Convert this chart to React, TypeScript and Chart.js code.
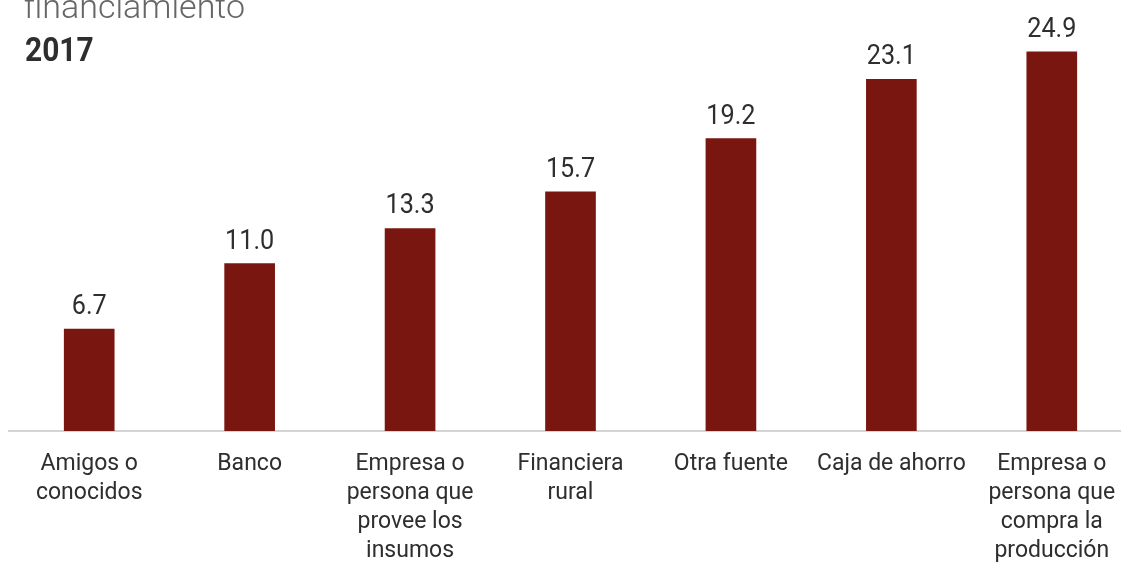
import React, { useEffect, useRef } from "react";
import { Chart, registerables } from "chart.js";

Chart.register(...registerables);

const categories: (string | string[])[] = [
  ["Amigos o", "conocidos"],
  "Banco",
  ["Empresa o", "persona que", "provee los", "insumos"],
  ["Financiera", "rural"],
  "Otra fuente",
  "Caja de ahorro",
  ["Empresa o", "persona que", "compra la", "producción"],
];
const values: number[] = [6.7, 11.0, 13.3, 15.7, 19.2, 23.1, 24.9];
const titleLine = "financiamiento";
const yearLabel = "2017";

const BAR_COLOR = "#7a1610";
const TEXT_COLOR = "#2e2e2e";

const valueLabels = {
  id: "valueLabels",
  afterDatasetsDraw(chart: any) {
    const ctx = chart.ctx;
    const meta = chart.getDatasetMeta(0);
    meta.data.forEach((bar: any, i: number) => {
      ctx.save();
      ctx.font = "400 28px Roboto";
      ctx.fillStyle = TEXT_COLOR;
      ctx.textAlign = "center";
      ctx.textBaseline = "alphabetic";
      ctx.translate(bar.x, bar.y - 15);
      ctx.scale(0.9, 1);
      ctx.fillText(values[i].toFixed(1), 0, 0);
      ctx.restore();
    });
  },
};

export default function App() {
  const ref = useRef<HTMLCanvasElement | null>(null);
  useEffect(() => {
    if (!ref.current) return;
    const chart = new Chart(ref.current, {
      type: "bar",
      data: {
        labels: categories,
        datasets: [
          {
            data: values,
            backgroundColor: BAR_COLOR,
            barThickness: 50,
          },
        ],
      },
      options: {
        animation: false,
        responsive: true,
        maintainAspectRatio: false,
        layout: { padding: { left: 9, right: 3, top: 0, bottom: -16 } },
        plugins: { legend: { display: false }, tooltip: { enabled: false } },
        scales: {
          y: { display: false, min: 0, max: 28.3 },
          x: {
            grid: { display: false, drawTicks: false },
            border: { display: true, color: "#d4d4d4", width: 2 },
            ticks: {
              color: TEXT_COLOR,
              font: { family: "Roboto", size: 23, lineHeight: 1.26 },
              padding: 18.5,
              maxRotation: 0,
              autoSkip: false,
            },
          },
        },
      },
      plugins: [valueLabels],
    });
    return () => chart.destroy();
  }, []);

  return (
    <div style={{ position: "fixed", left: 0, top: 0, width: 1121, height: 568, overflow: "hidden", background: "#fff" }}>
      <div style={{ position: "absolute", left: 0, top: 0, width: 1135, height: 568 }}>
        <canvas ref={ref} />
      </div>
      <div
        style={{
          position: "absolute",
          left: 24,
          top: -14,
          fontFamily: "Roboto",
          fontWeight: 300,
          fontSize: 34,
          color: "#666",
          lineHeight: "40px",
          whiteSpace: "nowrap",
        }}
      >
        {titleLine}
      </div>
      <div
        style={{
          position: "absolute",
          left: 25,
          top: 29,
          fontFamily: "Roboto",
          fontWeight: 700,
          fontSize: 34,
          color: TEXT_COLOR,
          lineHeight: "40px",
          transform: "scaleX(0.88)",
          transformOrigin: "left top",
        }}
      >
        {yearLabel}
      </div>
    </div>
  );
}
